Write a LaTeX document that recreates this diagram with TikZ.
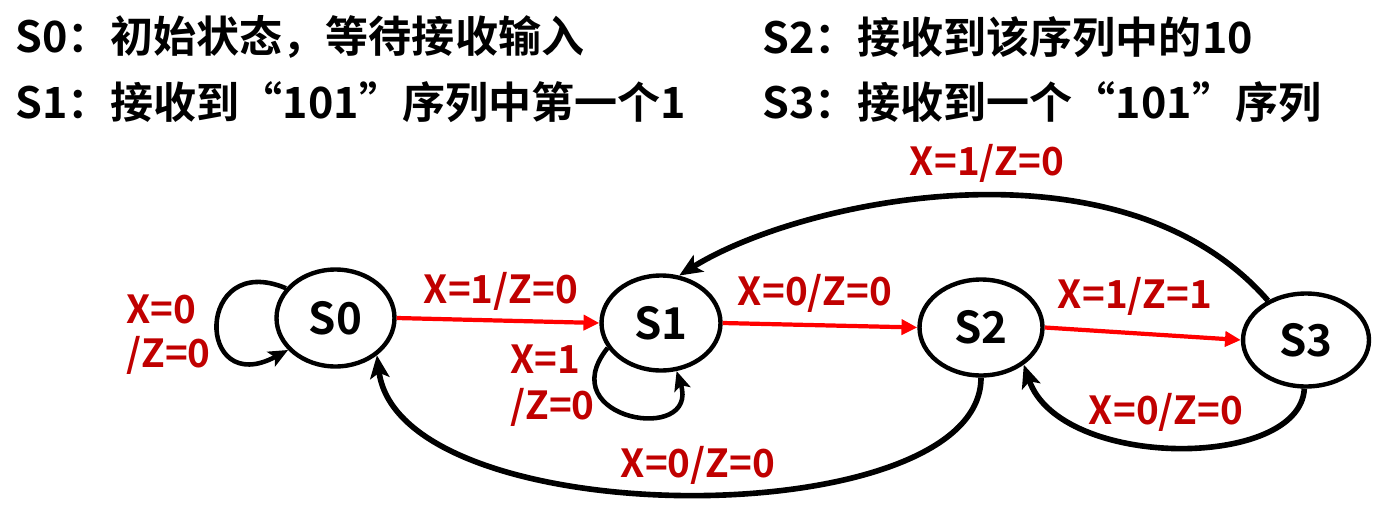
\documentclass[tikz,border=0pt]{standalone}
\usepackage{fontspec}
\setmainfont{Noto Sans CJK SC Bold}
\usetikzlibrary{shapes.geometric, arrows.meta}
\definecolor{labred}{HTML}{C00000}
\definecolor{arrred}{HTML}{FF0000}
\tikzset{state/.style={ellipse, draw=black, line width=2.5pt, minimum width=2.4cm, minimum height=1.94cm, inner sep=0pt, font=\fontsize{25}{25}\selectfont}}
\tikzset{caption/.style={anchor=west, inner sep=0pt, font=\fontsize{24.5}{24.5}\selectfont}}
\tikzset{cond/.style={text=labred, inner sep=0pt, font=\fontsize{22}{25}\selectfont}}
\tikzset{redarrow/.style={draw=arrred, line width=2.4pt, -{Triangle[length=9pt, width=8.5pt]}}}
\tikzset{backarc/.style={draw=black, line width=3.2pt, -{Stealth[length=13pt, width=11pt, inset=3pt]}}}
\tikzset{selfloop/.style={draw=black, line width=2.6pt, -{Stealth[length=11pt, width=9.5pt, inset=2.5pt]}}}

\begin{document}
\begin{tikzpicture}[x=0.02cm, y=-0.02cm]
    \newcommand\colL{15}
    \newcommand\colR{762}
    \newcommand\rowA{37}
    \newcommand\rowB{102}
    \useasboundingbox (0, 0) rectangle (1391, 517);

    \node[caption] (cap0) at (\colL, \rowA){S0：初始状态，等待接收输入};
    \node[caption] (cap1) at (\colL, \rowB){S1：接收到“101”序列中第一个1};
    \node[caption] (cap2) at (\colR, \rowA){S2：接收到该序列中的10};
    \node[caption] (cap3) at (\colR, \rowB){S3：接收到一个“101”序列};

    \node[state, minimum width=2.36cm, minimum height=1.94cm] (S0) at (335.5, 318){S0};
    \node[state, minimum width=2.38cm, minimum height=1.9cm] (S1) at (661, 323){S1};
    \node[state, minimum width=2.46cm, minimum height=1.92cm] (S2) at (981, 327.5){S2};
    \node[state, minimum width=2.52cm, minimum height=1.86cm] (S3) at (1306, 340){S3};

    \draw[redarrow] (S0.east) -- (S1.west);
    \draw[redarrow] (S1.east) -- (S2.west);
    \draw[redarrow] (S2.east) -- (S3.west);

    \draw[selfloop] (S0.149) .. controls (195, 250) and (195, 400) .. (S0.214);
    \draw[selfloop] (S1.205) .. controls (550, 420) and (700, 445) .. (S1.288);
    \draw[backarc] (S3.134) .. controls (1120, 131) and (800, 200) .. (S1.69);
    \draw[backarc] (S2.270) .. controls (981, 536) and (400, 536) .. (S0.318);
    \draw[backarc] (S3.268) .. controls (1300, 470) and (1060, 470) .. (S2.319);

    \node[cond] (c01) at (501, 291){X=1/Z=0};
    \node[cond] (c12) at (815, 293){X=0/Z=0};
    \node[cond] (c23) at (1135, 296){X=1/Z=1};
    \node[cond] (c31) at (987, 163){X=1/Z=0};
    \node[cond] (c32) at (1166, 412){X=0/Z=0};
    \node[cond] (c20) at (698, 465){X=0/Z=0};
    \node[cond, align=left, anchor=west] (c00) at (126, 335){X=0\\/Z=0};
    \node[cond, align=left, anchor=west, font=\fontsize{22}{26.5}\selectfont] (c11) at (510, 385.5){X=1\\/Z=0};
\end{tikzpicture}
\end{document}
